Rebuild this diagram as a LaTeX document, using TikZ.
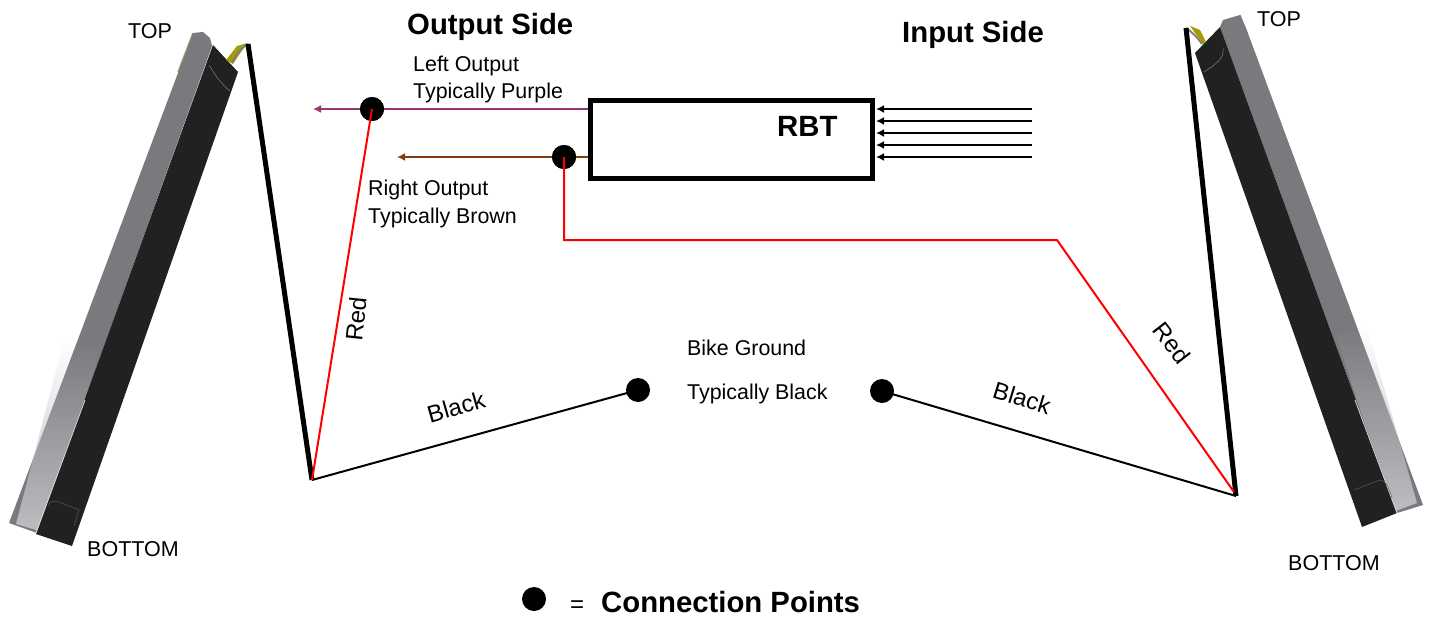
\documentclass[tikz,border=0pt]{standalone}
\usepackage{fontspec}
\setmainfont{Liberation Sans}
\usetikzlibrary{arrows.meta,fadings}
\definecolor{tubedark}{RGB}{32,34,33}
\definecolor{tubegray}{RGB}{122,122,126}
\definecolor{tubelight}{RGB}{188,190,194}
\definecolor{purplew}{RGB}{150,54,110}
\definecolor{brownw}{RGB}{132,60,12}
\definecolor{redw}{RGB}{255,0,0}
\definecolor{tanfringe}{RGB}{176,160,110}
\tikzset{
  lbl/.style={inner sep=0pt,anchor=base west,font=\fontsize{21.4}{24}\selectfont},
  capt/.style={inner sep=0pt,anchor=base west,font=\fontsize{21.5}{24}\selectfont},
  slant/.style={inner sep=0pt,anchor=center,font=\fontsize{24}{28}\selectfont},
  head/.style={inner sep=0pt,anchor=base west,font=\bfseries\fontsize{29.3}{34}\selectfont},
  cdot/.style={circle,fill=black,inner sep=0pt,minimum size=24pt},
  thickw/.style={line width=5pt,black},
  thinw/.style={line width=2pt,black},
  redwire/.style={line width=2pt,redw},
  inw/.style={line width=2pt,black,-{Latex[length=8pt,width=8pt]}},
  outw/.style={line width=2pt,-{Latex[length=8pt,width=8pt]}},
}
\begin{document}
\begin{tikzpicture}[x=1pt,y=-1pt]
\useasboundingbox (0,0) rectangle (1431,618);
% left tube
\draw[tanfringe,line width=1.5pt] (193,33) -- (178,72);
\fill[tubegray] (193,33) -- (203,32) -- (210,38) -- (212,46) -- (37,533) -- (9,523) -- cycle;
\fill[tubelight,path fading=north] (64,340) -- (100,352) -- (43,532) -- (16,524) -- cycle;
\fill[tubedark] (213,45) -- (238,72) -- (72,546) -- (36,534) -- cycle;
\draw[white!75!gray,line width=0.8pt] (85,400) -- (36,533);
\draw[gray,line width=0.5pt] (209,65) .. controls (215,75) and (222,85) .. (230,91);
\draw[gray!70!black,line width=0.5pt] (48,505) .. controls (52,499) and (55,500) .. (79,510) -- (74,526);
\fill[olive!80!yellow] (226,60) -- (237,46) -- (247,43) -- (233,64) -- cycle;
\draw[gray,line width=2pt] (232,63) .. controls (236,54) and (241,48) .. (248,44);
% right tube
\draw[tanfringe,line width=1.5pt] (1240,15) -- (1256,60);
\fill[tubegray] (1223,20) -- (1240,15) -- (1246,28) -- (1423,505) -- (1397,513) -- (1220,27) -- cycle;
\fill[tubelight,path fading=north] (1336,335) -- (1366,325) -- (1417,503) -- (1393,512) -- cycle;
\fill[tubedark] (1220,27) -- (1397,513) -- (1362,527) -- (1195,53) -- cycle;
\draw[white!75!gray,line width=0.8pt] (1355,400) -- (1397,513);
\draw[gray,line width=0.5pt] (1223,48) .. controls (1225,58) and (1215,65) .. (1204,72);
\draw[gray!70!black,line width=0.5pt] (1354,490) -- (1380,480) .. controls (1385,480) and (1388,485) .. (1392,498);
\fill[olive!80!yellow] (1190,26) -- (1200,30) -- (1206,42) -- (1203,44) -- cycle;
\draw[gray,line width=2pt] (1186,28) .. controls (1192,32) and (1197,37) .. (1202,44);
% coordinates
\coordinate (lt) at (248,44);
\coordinate (lb) at (312,480);
\coordinate (rt) at (1186,28);
\coordinate (rb) at (1236,496);
\coordinate (rr) at (1234,492);
\coordinate (bendA) at (564,240);
\coordinate (bendB) at (1057,240);
\coordinate (pend) at (313,109);
\coordinate (bend) at (397,157);
% RBT box
\node[draw=black,line width=5pt,fill=white,outer sep=0pt,minimum width=282pt,minimum height=78pt,inner sep=0pt,anchor=north west] (rbt) at (590.5,100.5) {};
\node[head,anchor=base west] (rbtl) at (777,136) {RBT};
% dots
\node[cdot] (d1) at (372,109) {};
\node[cdot] (d2) at (564,157) {};
\node[cdot] (d3) at (638,390) {};
\node[cdot] (d4) at (882,391) {};
% output wires
\coordinate (pr) at (588,109);
\coordinate (br) at (588,157);
\draw[outw,purplew] (pr) -- (pend);
\draw[outw,brownw] (br) -- (bend);
\node[cdot] at (372,109) {};
\node[cdot] at (564,157) {};
% input arrows
\foreach \y in {109,121,133,145,157}{
  \coordinate (is\y) at (1032,\y);
  \coordinate (ie\y) at (876,\y);
  \draw[inw] (is\y) -- (ie\y);
}
% thick wires
\draw[thickw] (lt) -- (lb);
\draw[thickw] (rt) -- (rb);
% thin wires
\draw[thinw] (lb) -- (d3.center);
\draw[thinw] (rb) -- (d4.center);
\draw[redwire] (lb) -- (d1.center);
\draw[redwire] (d2.center) -- (bendA) -- (bendB) -- (rr);
% labels
\node[capt] at (128,38) {TOP};
\node[capt] at (1257,27) {TOP};
\node[capt] at (87,556) {BOTTOM};
\node[capt] at (1288,570) {BOTTOM};
\node[head] at (407,35) {Output Side};
\node[head] at (902,42) {Input Side};
\node[lbl] at (413,71) {Left Output};
\node[lbl] at (413,98) {Typically Purple};
\node[lbl] at (368,195) {Right Output};
\node[lbl] at (368,223) {Typically Brown};
\node[lbl] at (687,355) {Bike Ground};
\node[lbl] at (687,399) {Typically Black};
\node[slant,rotate=84] at (356,319) {Red};
\node[slant,rotate=-52] at (1172,343) {Red};
\node[slant,rotate=16] at (456,407) {Black};
\node[slant,rotate=-17] at (1022,398) {Black};
% legend
\node[cdot] (leg) at (534,599) {};
\node[inner sep=0pt,anchor=base west,font=\fontsize{24}{28}\selectfont] at (570,612) {=};
\node[head] at (601,612) {Connection Points};
\end{tikzpicture}
\end{document}
